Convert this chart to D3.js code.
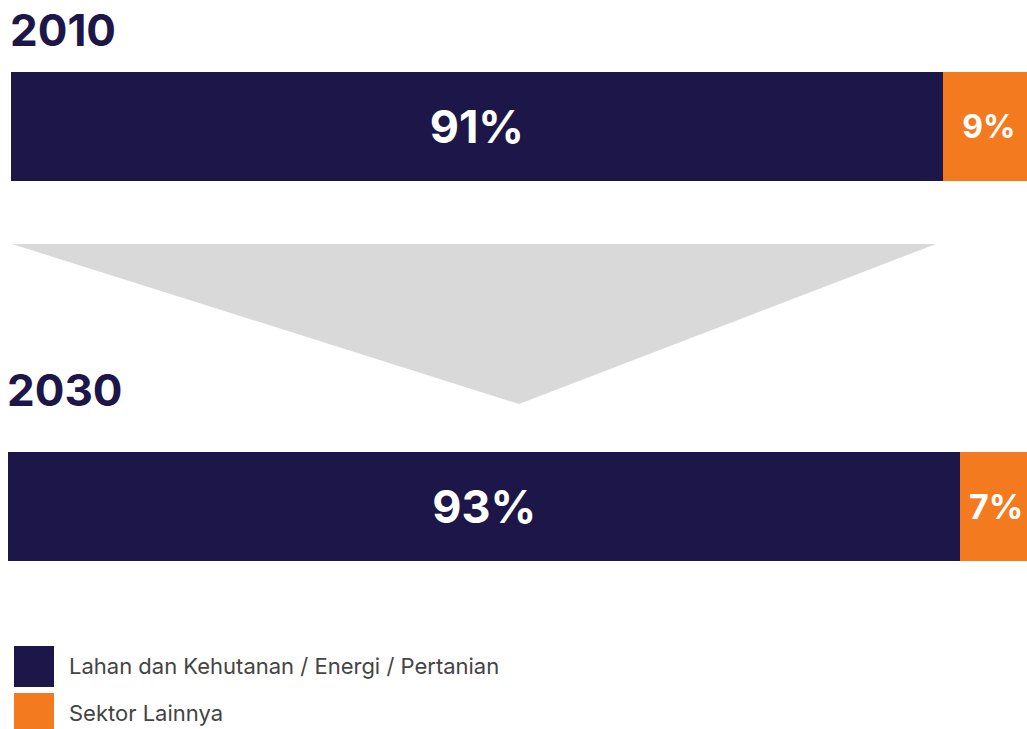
<!DOCTYPE html>
<html>
<head>
<meta charset="utf-8">
<script src="https://cdn.jsdelivr.net/npm/d3@7"></script>
<style>
  html, body { margin: 0; padding: 0; background: #fff; overflow: hidden; }
  svg { display: block; }
</style>
</head>
<body>
<svg width="1027" height="729"></svg>
<script>
// data
var years = ["2010", "2030"];
var categories = ["Lahan dan Kehutanan / Energi / Pertanian", "Sektor Lainnya"];
var share2010 = [91, 9];
var share2030 = [93, 7];
var shares = [share2010, share2030];
var colors = ["#1d1648", "#f47a20"];

var svg = d3.select("svg"),
    W = +svg.attr("width"),
    H = +svg.attr("height");

var font = "Inter, 'Liberation Sans', Arial, sans-serif";

// bar layout (bars run a bit past the right edge, like the original)
var rows = [
  {year: years[0], x0: 11, y: 72, h: 109, titleY: 46, bigSize: 45, smallSize: 32},
  {year: years[1], x0: 8, y: 452, h: 109, titleY: 406, bigSize: 45, smallSize: 34}
];

var x = d3.scaleLinear().domain([0, 100]).range([0, 1024]);

// arrow between the two bars
svg.append("path")
    .attr("d", "M12,244 L936,244 L519,404 Z")
    .attr("fill", "#d9d9d9");

rows.forEach(function(r, i) {
  var vals = shares[i];
  var stack = [];
  var acc = 0;
  vals.forEach(function(v, j) {
    stack.push({v: v, start: acc, end: acc + v, c: j});
    acc += v;
  });

  svg.append("text")
      .attr("x", r.x0 - 1)
      .attr("y", r.titleY)
      .attr("fill", colors[0])
      .style("font-family", font)
      .style("font-weight", "700")
      .style("font-size", "44px")
      .text(r.year);

  var g = svg.append("g").attr("transform", "translate(" + r.x0 + ",0)");

  g.selectAll("rect")
    .data(stack)
    .enter().append("rect")
      .attr("x", function(d) { return Math.round(x(d.start)); })
      .attr("y", r.y)
      .attr("width", function(d) { return Math.round(x(d.end)) - Math.round(x(d.start)); })
      .attr("height", r.h)
      .attr("shape-rendering", "crispEdges")
      .attr("fill", function(d) { return colors[d.c]; });

  g.selectAll("text.val")
    .data(stack)
    .enter().append("text")
      .attr("class", "val")
      .attr("x", function(d) { return (x(d.start) + x(d.end)) / 2; })
      .attr("y", r.y + r.h / 2)
      .attr("dy", "0.36em")
      .attr("text-anchor", "middle")
      .attr("fill", "#fff")
      .style("font-family", font)
      .style("font-weight", "700")
      .style("font-size", function(d) { return (d.c == 0 ? r.bigSize : r.smallSize) + "px"; })
      .text(function(d) { return d.v + "%"; });
});

// legend
var leg = svg.append("g").attr("transform", "translate(14,646)");
var item = leg.selectAll("g")
  .data(categories)
  .enter().append("g")
    .attr("transform", function(d, i) { return "translate(0," + i * 47 + ")"; });

item.append("rect")
    .attr("width", 40)
    .attr("height", 41)
    .attr("fill", function(d, i) { return colors[i]; });

item.append("text")
    .attr("x", 55)
    .attr("y", 28)
    .attr("fill", "#444")
    .style("font-family", font)
    .style("font-size", "22px")
    .text(function(d) { return d; });
</script>
</body>
</html>
